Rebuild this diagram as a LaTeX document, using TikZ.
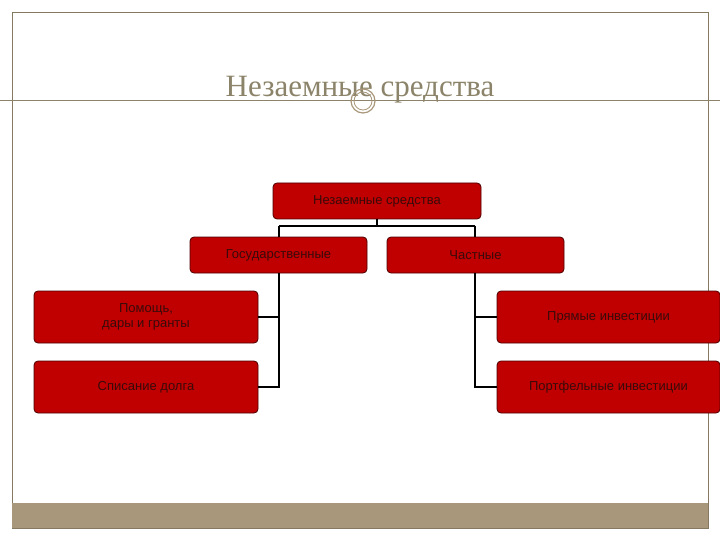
\documentclass[tikz,border=0pt]{standalone}
\usepackage{fontspec}
\setmainfont{Liberation Sans}
\newfontfamily\titlefont{Liberation Serif}
\definecolor{boxred}{HTML}{C00000}
\definecolor{tan}{HTML}{A8977A}
\definecolor{titlec}{HTML}{8C846A}
\definecolor{txt}{HTML}{3A0A0A}
\begin{document}
\begin{tikzpicture}[x=1pt,y=-1pt,
  rbox/.style={draw=black!70!red,line width=0.8pt,fill=boxred,rounded corners=4pt,text=txt,font=\fontsize{13}{15}\selectfont,align=center,inner sep=0pt},
  conn/.style={draw=black,line width=1.5pt}]
\useasboundingbox (0,0) rectangle (720,540);
\fill[white] (0,0) rectangle (720,540);
\draw[tan!80!black,line width=0.8pt] (12,12) rectangle (708,528);
\fill[tan] (12,503) rectangle (708,528);
\draw[titlec,line width=0.8pt] (0,100) -- (720,100);
\node[font=\titlefont\fontsize{31}{34}\selectfont,text=titlec] (title) at (360,90) {Незаемные средства};
\draw[tan,line width=1.2pt,fill=white,fill opacity=0] (363,101) circle (12);
\draw[tan,line width=0.8pt] (363,101) circle (9);
\node[rbox,minimum width=208pt,minimum height=36pt] (top) at (377,201) {Незаемные средства};
\node[rbox,minimum width=177pt,minimum height=36pt] (gos) at (278.5,255) {Государственные};
\node[rbox,minimum width=177pt,minimum height=36pt] (chast) at (475.5,255) {Частные};
\node[rbox,minimum width=224pt,minimum height=52pt] (pom) at (146,317) {Помощь,\\дары и гранты};
\node[rbox,minimum width=224pt,minimum height=52pt] (spis) at (146,387) {Списание долга};
\node[rbox,minimum width=223pt,minimum height=52pt] (pryam) at (608.5,317) {Прямые инвестиции};
\node[rbox,minimum width=223pt,minimum height=52pt] (port) at (608.5,387) {Портфельные инвестиции};
\coordinate (j) at (377,226);
\draw[conn] (top.south) -- (j);
\draw[conn] (279,226) -- (475,226);
\draw[conn] (279,226) -- (gos.north -| 279,0);
\draw[conn] (475,226) -- (chast.north -| 475,0);
\draw[conn] (gos.south -| 279,0) |- (spis.east);
\draw[conn] (279,317) -- (pom.east);
\draw[conn] (chast.south -| 475,0) |- (port.west);
\draw[conn] (475,317) -- (pryam.west);
\end{tikzpicture}
\end{document}
